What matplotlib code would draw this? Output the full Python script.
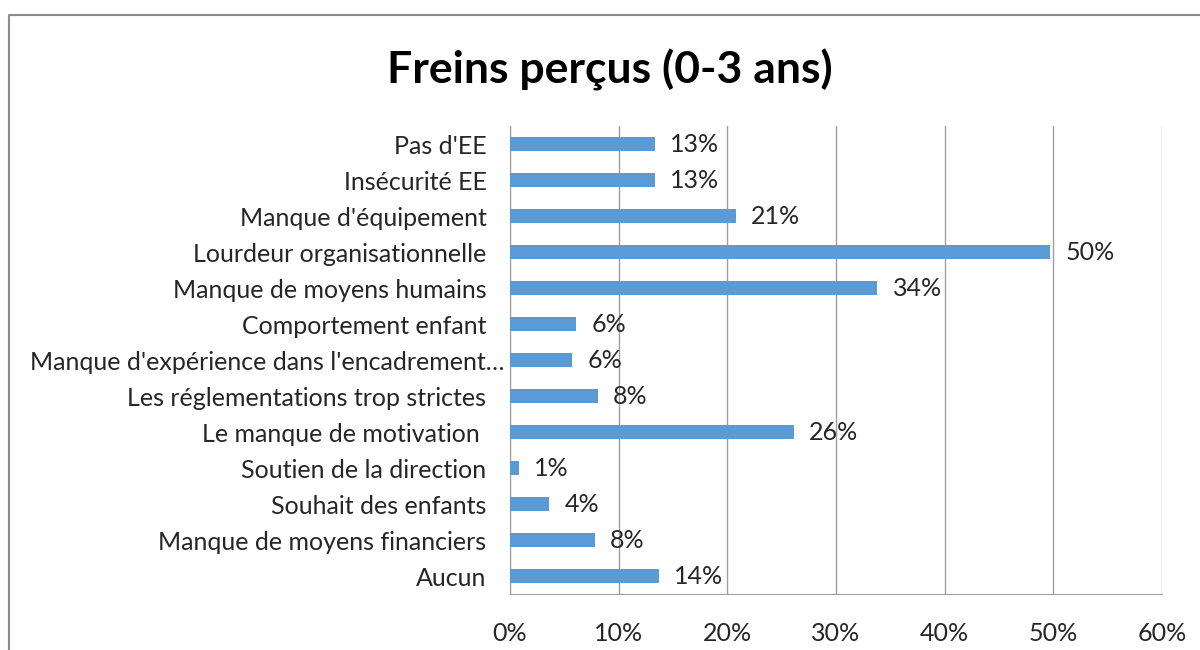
import numpy as np
import matplotlib.pyplot as plt
import matplotlib.transforms as mtransforms
from matplotlib.lines import Line2D

plt.rcParams['font.family'] = ['Lato', 'DejaVu Sans']

# données (de haut en bas)
categories = ["Pas d'EE", "Insécurité EE", "Manque d'équipement",
              "Lourdeur organisationnelle", "Manque de moyens humains",
              "Comportement enfant",
              "Manque d'expérience dans l'encadrement…",
              "Les réglementations trop strictes", "Le manque de motivation ",
              "Soutien de la direction", "Souhait des enfants",
              "Manque de moyens financiers", "Aucun"]
values = [0.133, 0.133, 0.208, 0.497, 0.338, 0.061, 0.057, 0.081, 0.261,
          0.008, 0.036, 0.078, 0.137]
xticks = [0, 0.1, 0.2, 0.3, 0.4, 0.5, 0.6]

fig = plt.figure(figsize=(12, 6.5), dpi=100)
ax = fig.add_axes([510 / 1200, 1 - 594 / 650, (1162 - 510) / 1200, (594 - 126) / 650])

y = np.arange(len(categories))
ax.barh(y, values, height=0.4, color="#5B9BD5", zorder=3)
ax.set_ylim(len(categories) - 0.5, -0.5)
ax.set_xlim(0, 0.6)
ax.set_yticks(y)
ax.set_yticklabels(categories, fontsize=18, color="#262626")
ax.set_xticks(xticks)
ax.set_xticklabels(["%d%%" % round(t * 100) for t in xticks], fontsize=18, color="#262626")
ax.tick_params(axis="both", length=0)
ax.tick_params(axis="x", pad=20)
ax.tick_params(axis="y", pad=17)
ax.grid(axis="x", color="#A0A0A0", linewidth=1, zorder=0)
for s in ["top", "right"]:
    ax.spines[s].set_visible(False)
for s in ["left", "bottom"]:
    ax.spines[s].set_color("#A0A0A0")

# le libellé tronqué déborde vers l'axe comme dans Excel
lab = ax.get_yticklabels()[6]
lab.set_transform(lab.get_transform() + mtransforms.ScaledTranslation(13 / 72, 0, fig.dpi_scale_trans))

for yi, v in zip(y, values):
    ax.text(v + 0.014, yi, "%d%%" % round(v * 100), va="center", ha="left",
            fontsize=18, color="#262626", zorder=4)

fig.text(610 / 1200, 1 - 70 / 650, "Freins perçus (0-3 ans)", ha="center", va="center",
         fontsize=32, fontweight="bold", color="black")

# cadre du graphique
fig.add_artist(Line2D([9 / 1200, 9 / 1200, 1], [0, 1 - 15 / 650, 1 - 15 / 650],
                      color="#8C8C8C", linewidth=1.5, transform=fig.transFigure))

fig.savefig("out.png", dpi=100)
